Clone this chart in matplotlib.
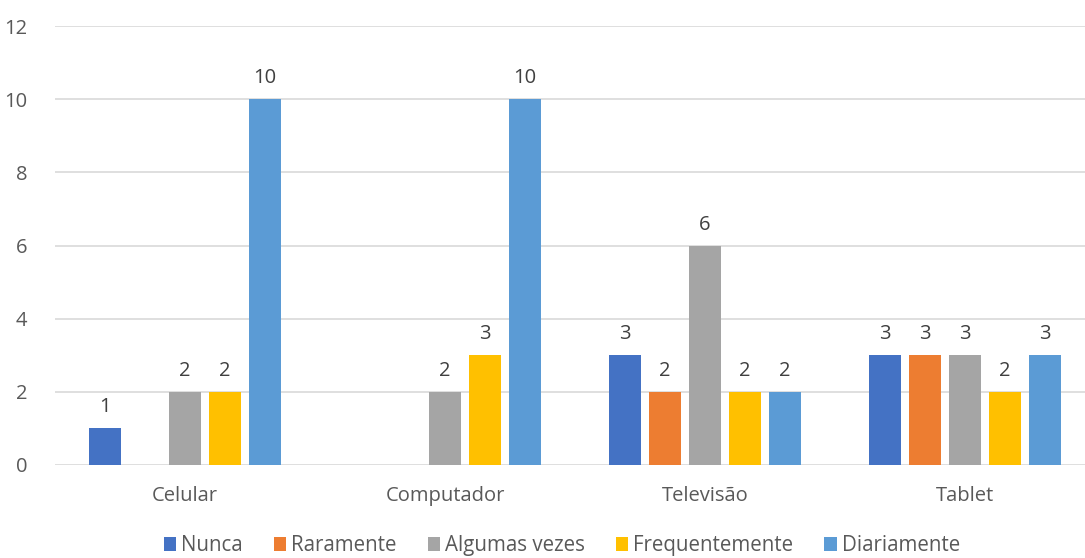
import matplotlib.pyplot as plt
import numpy as np

categories = ["Celular", "Computador", "Televisão", "Tablet"]
series = ["Nunca", "Raramente", "Algumas vezes", "Frequentemente", "Diariamente"]
nunca = [1, 0, 3, 3]
raramente = [0, 0, 2, 3]
algumas = [2, 2, 6, 3]
frequente = [2, 3, 2, 2]
diariamente = [10, 10, 2, 3]
values = [nunca, raramente, algumas, frequente, diariamente]
colors = ["#4472C4", "#ED7D31", "#A5A5A5", "#FFC000", "#5B9BD5"]

plt.rcParams["font.family"] = ["Open Sans", "DejaVu Sans"]
fig = plt.figure(figsize=(10.85, 5.58), dpi=100)
ax = fig.add_axes([0.0507, 0.1667, 0.9585, 0.7866])

x = np.arange(len(categories))
pitch = 0.1538
width = 0.123
for i, (name, vals) in enumerate(zip(series, values)):
    pos = x + (i - 2) * pitch
    ax.bar(pos, vals, width, color=colors[i], label=name, zorder=3)
    for p, v in zip(pos, vals):
        if v > 0:
            ax.text(p, v + 0.3, str(v), ha="center", va="bottom",
                    fontsize=14.5, color="#404040")

ax.set_xlim(-0.5, 3.5)
ax.set_ylim(0, 12)
ax.set_yticks(range(0, 13, 2))
ax.set_xticks(x)
ax.set_xticklabels(categories)
ax.tick_params(axis="both", length=0, labelsize=14.5, labelcolor="#595959")
ax.tick_params(axis="x", pad=15)
ax.tick_params(axis="y", pad=20)
ax.grid(axis="y", color="#D9D9D9", linewidth=1.2, zorder=0)
for s in ax.spines.values():
    s.set_visible(False)

fig.legend(loc="lower center", bbox_to_anchor=(0.518, -0.03), ncol=5, frameon=False,
           fontsize=14.8, handlelength=0.6, handleheight=0.6, handletextpad=0.25,
           columnspacing=1.5, labelcolor="#595959")

fig.savefig("out.png", dpi=100)
